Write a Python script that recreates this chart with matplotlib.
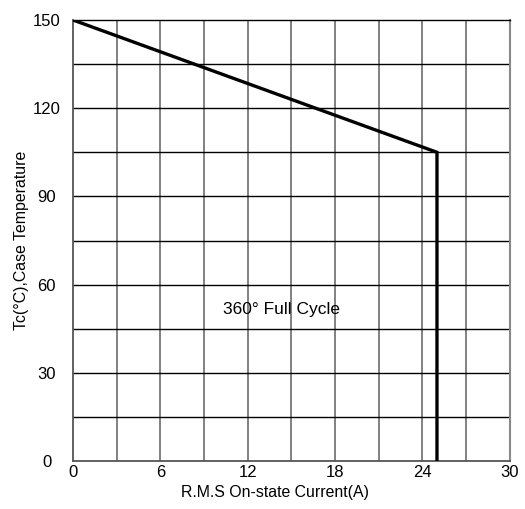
import matplotlib
matplotlib.use("Agg")
import matplotlib.pyplot as plt

plt.rcParams['font.family'] = ['Liberation Sans', 'DejaVu Sans']

curve_x = [0, 25, 25]
curve_y = [150, 105, 0]
xticks = [0, 6, 12, 18, 24, 30]
yticks = [0, 30, 60, 90, 120, 150]

fig = plt.figure(figsize=(5.25, 5.09), dpi=100)
ax = fig.add_axes([0.139, 0.0943, 0.832, 0.8664])
ax.set_xlim(0, 30)
ax.set_ylim(0, 150)

for gx in range(3, 30, 3):
    ax.axvline(gx, color='#777777', lw=1.3, zorder=1)
for gy in range(15, 150, 15):
    ax.axhline(gy, color='black', lw=1.0, zorder=1)

ax.plot(curve_x, curve_y, color='black', lw=2.4, zorder=3, solid_joinstyle='miter')

ax.set_xticks(xticks)
ax.set_yticks(yticks)
ax.tick_params(axis='x', length=0, labelsize=12, pad=3)
ax.tick_params(axis='y', length=0, labelsize=12, pad=19)
for lab in ax.get_yticklabels():
    lab.set_horizontalalignment('center')
for s in ['left', 'bottom']:
    ax.spines[s].set_color('#555555')
    ax.spines[s].set_linewidth(1.3)
ax.spines['right'].set_color('#888888')
ax.spines['right'].set_linewidth(1.5)
ax.spines['top'].set_color('black')
ax.spines['top'].set_linewidth(1.0)

ax.text(14.35, 51.5, '360° Full Cycle', fontsize=12.5, ha='center', va='center')
ax.set_xlabel('R.M.S On-state Current(A)', fontsize=11.4)
ax.xaxis.set_label_coords(0.462, -0.055)
ax.set_ylabel('Tc(°C),Case Temperature', fontsize=11.4)
ax.yaxis.set_label_coords(-0.1, 0.5)

fig.savefig('out.png', dpi=100)
